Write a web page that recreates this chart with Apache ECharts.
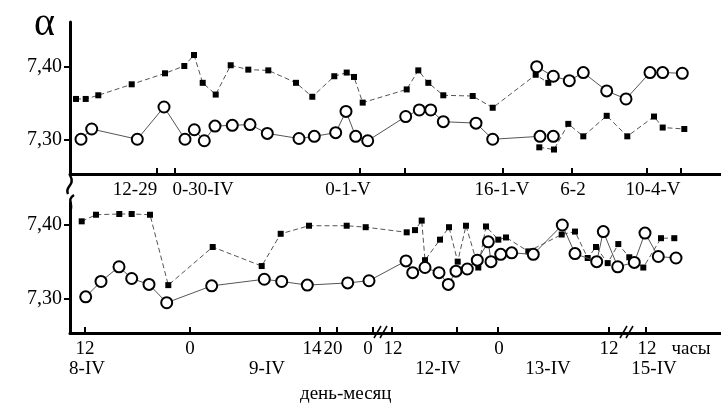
<!DOCTYPE html>
<html><head><meta charset="utf-8">
<script src="https://cdn.jsdelivr.net/npm/echarts@6/dist/echarts.min.js"></script>
<style>html,body{margin:0;padding:0;background:#fff}#c{width:721px;height:403px}</style>
</head><body><div id="c"></div>
<script>
// x values are positions along the (broken, non-linear) time axis, in axis units
// ---- top panel ----
const topCirclesLow = [[11,7.301],[21.7,7.315],[67.3,7.301],[94,7.345],[115,7.301],[124.3,7.314],[134.3,7.299],[145,7.319],[162.3,7.320],[180,7.321],[197.3,7.309],[229,7.302],[244.3,7.305],[265.7,7.310],[276,7.339],[285.7,7.305],[297.7,7.299],[335.7,7.332],[349.3,7.341],[360.7,7.341],[373.3,7.325],[406,7.323],[422.7,7.301],[470,7.305],[476,'-'],[483.3,7.305]];
const topCirclesHigh = [[466.7,7.400],[483.3,7.387],[499.3,7.381],[513.3,7.392],[536.7,7.367],[556,7.356],[580,7.392],[592.7,7.392],[612.3,7.391]];
const topSquaresHigh = [[6,7.356],[15.7,7.356],[28.3,7.361],[61.7,7.376],[95,7.391],[114.3,7.401],[124,7.416],[132.7,7.378],[145.7,7.362],[160.7,7.402],[178.3,7.396],[198.3,7.395],[226,7.378],[242.3,7.359],[264.3,7.387],[276.7,7.392],[284,7.386],[292.7,7.351],[336.7,7.369],[348.3,7.395],[358.3,7.378],[373.3,7.361],[402.7,7.360],[422.7,7.344],[465.7,7.389],[478.3,7.378]];
const topSquaresLow = [[469.3,7.290],[484,7.287],[498.3,7.322],[513.3,7.305],[536.7,7.333],[557.3,7.305],[584,7.332],[592.7,7.317],[614.3,7.315]];
const topTicks = [87,105,290,335,433,502,577,611];
const topLabelPos = [65,133,278,432,503,583];
const topLabels = ['12-29','0-30-IV','0-1-V','16-1-V','6-2','10-4-V'];
// ---- bottom panel ----
const botCircles = [[15.7,7.302],[31,7.323],[49,7.343],[61.7,7.327],[79,7.319],[96.7,7.294],[141.7,7.317],[194.3,7.326],[211.7,7.323],[237.3,7.318],[277.7,7.321],[299,7.324],[336,7.351],[342.7,7.335],[355,7.342],[369,7.335],[378.3,7.319],[386,7.337],[397.3,7.340],[407.3,7.352],[418.3,7.377],[421,7.350],[430.7,7.360],[441.7,7.362],[463.3,7.360],[492.3,7.400],[505,7.361],[526.7,7.350],[533.3,7.391],[547.7,7.343],[564.3,7.349],[575,7.389],[588.3,7.357],[606,7.355]];
const botSquares = [[11.7,7.405],[26,7.414],[49.3,7.415],[61.7,7.415],[80,7.414],[98.3,7.318],[142.7,7.370],[191.7,7.344],[210.7,7.388],[239,7.399],[276.7,7.399],[295.7,7.397],[336.7,7.390],[345,7.393],[351.7,7.406],[355,7.352],[370,7.380],[379,7.397],[387.7,7.350],[396,7.399],[408.3,7.342],[416,7.398],[428.3,7.380],[436,7.383],[458.3,7.364],[491.7,7.387],[505,7.391],[517.7,7.355],[526,7.370],[537.7,7.348],[548.3,7.374],[559.3,7.356],[573.3,7.342],[591,7.382],[604.3,7.382]];
const botTicks = [15,120,250,267,303,322,387,428,539,576];
const botRow1Pos = [15,120,242,263,298,323,429,539,577,621];
const botRow1 = ['12','0','14','20','0','12','0','12','12','часы'];
const botRow2Pos = [17,197,368,478,584];
const botRow2 = ['8-IV','9-IV','12-IV','13-IV','15-IV'];
const yTicks = [7.30, 7.40];

const FONT = 'Liberation Serif';
const lookup = (pos, txt) => v => { const i = pos.indexOf(v); return i >= 0 ? txt[i] : ''; };
const yFmt = v => v.toFixed(2).replace('.', ',');

function xAx(grid, ticks, lpos, ltxt, extra) {
  return Object.assign({
    gridIndex: grid, type: 'value', min: 0, max: 651, position: 'bottom',
    axisLine: { show: true, lineStyle: { color: '#000', width: 3 } },
    splitLine: { show: false },
    axisTick: { show: true, inside: true, length: 6, customValues: ticks, lineStyle: { color: '#000', width: 2 } },
    axisLabel: { customValues: lpos, formatter: lookup(lpos, ltxt), fontFamily: FONT, fontSize: 19, color: '#000', margin: 7 }
  }, extra || {});
}
function yAx(grid, min, max) {
  return {
    gridIndex: grid, type: 'value', min: min, max: max,
    axisLine: { show: true, lineStyle: { color: '#000', width: 3 } },
    splitLine: { show: false },
    axisTick: { show: true, length: 6, customValues: yTicks, lineStyle: { color: '#000', width: 2 } },
    axisLabel: { customValues: yTicks, formatter: yFmt, fontFamily: FONT, fontSize: 20, color: '#000', margin: 8 }
  };
}
function circ(data, xi, yi) {
  return { type: 'line', xAxisIndex: xi, yAxisIndex: yi, data: data, symbol: 'circle', symbolSize: 11,
    itemStyle: { color: '#fff', borderColor: '#000', borderWidth: 2 },
    lineStyle: { color: '#555', width: 1 }, z: 3, animation: false };
}
function sq(data, xi, yi) {
  return { type: 'line', xAxisIndex: xi, yAxisIndex: yi, data: data, symbol: 'rect', symbolSize: 6,
    itemStyle: { color: '#000' },
    lineStyle: { color: '#555', width: 1, type: [5, 3] }, z: 2, animation: false };
}

const chart = echarts.init(document.getElementById('c'), null, { renderer: 'canvas' });
chart.setOption({
  backgroundColor: '#fff',
  animation: false,
  grid: [
    { left: 70, right: 0, top: 22, height: 152 },
    { left: 70, right: 0, top: 203, height: 130 }
  ],
  xAxis: [
    xAx(0, topTicks, topLabelPos, topLabels),
    xAx(1, botTicks, botRow1Pos, botRow1),
    xAx(1, [], botRow2Pos, botRow2, { axisLine: { show: false }, axisTick: { show: false }, offset: 20 })
  ],
  yAxis: [ yAx(0, 7.2536, 7.461), yAx(1, 7.2527, 7.430) ],
  series: [
    sq(topSquaresHigh, 0, 0), sq(topSquaresLow, 0, 0),
    circ(topCirclesLow, 0, 0), circ(topCirclesHigh, 0, 0),
    sq(botSquares, 1, 1), circ(botCircles, 1, 1)
  ],
  graphic: [
    { type: 'text', left: 34, top: 4, style: { text: 'α', font: '40px "Liberation Serif"', fill: '#000' } },
    { type: 'text', left: 300, top: 385, style: { text: 'день-месяц', font: '19px "Liberation Serif"', fill: '#000' } },
    // y-axis break marks
    { type: 'bezierCurve', shape: { x1: 70, y1: 175, x2: 68, y2: 194, cpx1: 76, cpy1: 186, cpx2: 64, cpy2: 186 }, style: { stroke: '#000', lineWidth: 2.5, fill: null } },
    { type: 'bezierCurve', shape: { x1: 74, y1: 195, x2: 70, y2: 212, cpx1: 66, cpy1: 200, cpx2: 74, cpy2: 204 }, style: { stroke: '#000', lineWidth: 2.5, fill: null } },
    // x-axis break marks
    { type: 'line', shape: { x1: 374, y1: 338, x2: 381, y2: 326 }, style: { stroke: '#000', lineWidth: 1.5 } },
    { type: 'line', shape: { x1: 380, y1: 338, x2: 387, y2: 326 }, style: { stroke: '#000', lineWidth: 1.5 } },
    { type: 'line', shape: { x1: 620, y1: 338, x2: 627, y2: 326 }, style: { stroke: '#000', lineWidth: 1.5 } },
    { type: 'line', shape: { x1: 626, y1: 338, x2: 633, y2: 326 }, style: { stroke: '#000', lineWidth: 1.5 } }
  ]
});
</script></body></html>
